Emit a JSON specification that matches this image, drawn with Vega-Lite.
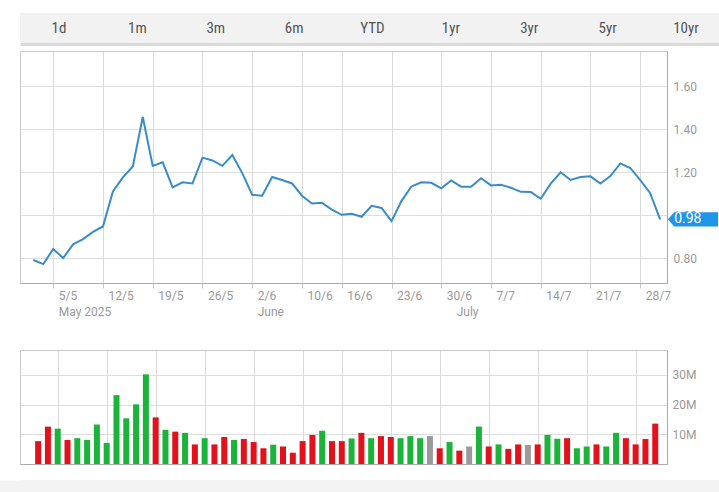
{
  "$schema": "https://vega.github.io/schema/vega-lite/v6.json",
  "padding": {"left": 0, "top": 13, "right": 0, "bottom": 0},
  "background": "white",
  "spacing": 6,
  "config": {
    "font": "Roboto",
    "view": {"stroke": "#c8c8c8"},
    "axis": {"labelFont": "Roboto", "labelColor": "#999999", "labelFontSize": 12, "gridColor": "#dedede", "domainColor": "#aaaaaa"}
  },
  "datasets": {
    "buttons": [{"k": 0, "b": "1d"}, {"k": 1, "b": "1m"}, {"k": 2, "b": "3m"}, {"k": 3, "b": "6m"}, {"k": 4, "b": "YTD"}, {"k": 5, "b": "1yr"}, {"k": 6, "b": "3yr"}, {"k": 7, "b": "5yr"}, {"k": 8, "b": "10yr"}],
    "prices": [
      {"i": 0, "date": "2025-05-01", "close": 0.791, "vol": 7.7, "dir": "down"},
      {"i": 1, "date": "2025-05-02", "close": 0.772, "vol": 12.6, "dir": "down"},
      {"i": 2, "date": "2025-05-05", "close": 0.842, "vol": 11.9, "dir": "up"},
      {"i": 3, "date": "2025-05-06", "close": 0.800, "vol": 8.1, "dir": "down"},
      {"i": 4, "date": "2025-05-07", "close": 0.864, "vol": 8.7, "dir": "up"},
      {"i": 5, "date": "2025-05-08", "close": 0.888, "vol": 8.1, "dir": "up"},
      {"i": 6, "date": "2025-05-09", "close": 0.922, "vol": 13.3, "dir": "up"},
      {"i": 7, "date": "2025-05-12", "close": 0.947, "vol": 7.1, "dir": "up"},
      {"i": 8, "date": "2025-05-13", "close": 1.110, "vol": 23.2, "dir": "up"},
      {"i": 9, "date": "2025-05-14", "close": 1.175, "vol": 15.4, "dir": "up"},
      {"i": 10, "date": "2025-05-15", "close": 1.226, "vol": 20.1, "dir": "up"},
      {"i": 11, "date": "2025-05-16", "close": 1.456, "vol": 30.2, "dir": "up"},
      {"i": 12, "date": "2025-05-19", "close": 1.228, "vol": 15.7, "dir": "down"},
      {"i": 13, "date": "2025-05-20", "close": 1.245, "vol": 11.5, "dir": "up"},
      {"i": 14, "date": "2025-05-21", "close": 1.129, "vol": 10.9, "dir": "down"},
      {"i": 15, "date": "2025-05-22", "close": 1.152, "vol": 10.5, "dir": "up"},
      {"i": 16, "date": "2025-05-23", "close": 1.147, "vol": 6.6, "dir": "down"},
      {"i": 17, "date": "2025-05-26", "close": 1.267, "vol": 8.7, "dir": "up"},
      {"i": 18, "date": "2025-05-27", "close": 1.254, "vol": 6.6, "dir": "down"},
      {"i": 19, "date": "2025-05-28", "close": 1.229, "vol": 9.1, "dir": "down"},
      {"i": 20, "date": "2025-05-29", "close": 1.279, "vol": 8.1, "dir": "up"},
      {"i": 21, "date": "2025-05-30", "close": 1.195, "vol": 8.4, "dir": "down"},
      {"i": 22, "date": "2025-06-02", "close": 1.094, "vol": 7.4, "dir": "down"},
      {"i": 23, "date": "2025-06-03", "close": 1.090, "vol": 5.3, "dir": "down"},
      {"i": 24, "date": "2025-06-04", "close": 1.177, "vol": 6.5, "dir": "up"},
      {"i": 25, "date": "2025-06-05", "close": 1.163, "vol": 5.9, "dir": "down"},
      {"i": 26, "date": "2025-06-06", "close": 1.147, "vol": 3.8, "dir": "down"},
      {"i": 27, "date": "2025-06-10", "close": 1.090, "vol": 7.7, "dir": "down"},
      {"i": 28, "date": "2025-06-11", "close": 1.054, "vol": 9.8, "dir": "down"},
      {"i": 29, "date": "2025-06-12", "close": 1.057, "vol": 11.2, "dir": "up"},
      {"i": 30, "date": "2025-06-13", "close": 1.025, "vol": 7.7, "dir": "down"},
      {"i": 31, "date": "2025-06-16", "close": 1.001, "vol": 7.7, "dir": "down"},
      {"i": 32, "date": "2025-06-17", "close": 1.006, "vol": 8.6, "dir": "up"},
      {"i": 33, "date": "2025-06-18", "close": 0.992, "vol": 10.5, "dir": "down"},
      {"i": 34, "date": "2025-06-19", "close": 1.043, "vol": 8.7, "dir": "up"},
      {"i": 35, "date": "2025-06-20", "close": 1.033, "vol": 9.4, "dir": "down"},
      {"i": 36, "date": "2025-06-23", "close": 0.972, "vol": 9.1, "dir": "down"},
      {"i": 37, "date": "2025-06-24", "close": 1.065, "vol": 8.7, "dir": "up"},
      {"i": 38, "date": "2025-06-25", "close": 1.133, "vol": 9.4, "dir": "up"},
      {"i": 39, "date": "2025-06-26", "close": 1.152, "vol": 8.7, "dir": "up"},
      {"i": 40, "date": "2025-06-27", "close": 1.150, "vol": 9.4, "dir": "flat"},
      {"i": 41, "date": "2025-06-30", "close": 1.124, "vol": 5.3, "dir": "down"},
      {"i": 42, "date": "2025-07-01", "close": 1.161, "vol": 7.4, "dir": "up"},
      {"i": 43, "date": "2025-07-02", "close": 1.132, "vol": 4.5, "dir": "down"},
      {"i": 44, "date": "2025-07-03", "close": 1.132, "vol": 5.9, "dir": "flat"},
      {"i": 45, "date": "2025-07-04", "close": 1.171, "vol": 12.6, "dir": "up"},
      {"i": 46, "date": "2025-07-07", "close": 1.138, "vol": 5.9, "dir": "down"},
      {"i": 47, "date": "2025-07-08", "close": 1.141, "vol": 6.6, "dir": "up"},
      {"i": 48, "date": "2025-07-09", "close": 1.127, "vol": 5.1, "dir": "down"},
      {"i": 49, "date": "2025-07-10", "close": 1.108, "vol": 6.6, "dir": "down"},
      {"i": 50, "date": "2025-07-11", "close": 1.107, "vol": 6.4, "dir": "flat"},
      {"i": 51, "date": "2025-07-14", "close": 1.076, "vol": 6.6, "dir": "down"},
      {"i": 52, "date": "2025-07-15", "close": 1.146, "vol": 9.8, "dir": "up"},
      {"i": 53, "date": "2025-07-16", "close": 1.199, "vol": 8.5, "dir": "up"},
      {"i": 54, "date": "2025-07-17", "close": 1.163, "vol": 8.7, "dir": "down"},
      {"i": 55, "date": "2025-07-18", "close": 1.177, "vol": 5.3, "dir": "up"},
      {"i": 56, "date": "2025-07-21", "close": 1.180, "vol": 5.9, "dir": "up"},
      {"i": 57, "date": "2025-07-22", "close": 1.147, "vol": 6.6, "dir": "down"},
      {"i": 58, "date": "2025-07-23", "close": 1.181, "vol": 5.9, "dir": "up"},
      {"i": 59, "date": "2025-07-24", "close": 1.240, "vol": 10.5, "dir": "up"},
      {"i": 60, "date": "2025-07-25", "close": 1.219, "vol": 8.7, "dir": "down"},
      {"i": 61, "date": "2025-07-28", "close": 1.163, "vol": 6.6, "dir": "down"},
      {"i": 62, "date": "2025-07-29", "close": 1.102, "vol": 8.4, "dir": "down"},
      {"i": 63, "date": "2025-07-30", "close": 0.980, "vol": 13.6, "dir": "down"}
    ]
  },
  "vconcat": [
    {
      "width": 699, "height": 30,
      "view": {"fill": "#f2f2f2", "stroke": null},
      "data": {"name": "buttons"},
      "mark": {"type": "text", "fontSize": 15, "color": "#555555", "font": "Roboto Condensed, Liberation Sans Narrow, Roboto"},
      "encoding": {
        "x": {
          "field": "k", "type": "quantitative",
          "scale": {"domain": [-0.4976, 8.4211], "nice": false, "zero": false},
          "axis": {"title": null, "labels": false, "ticks": false, "grid": false, "domain": true, "domainWidth": 3, "domainColor": "#dadada", "offset": 1}
        },
        "text": {"field": "b"}
      }
    },
    {
      "width": 647, "height": 232,
      "data": {"name": "prices"},
      "encoding": {
        "x": {
          "field": "i", "type": "quantitative",
          "scale": {"domain": [-1.34, 63.69], "nice": false, "zero": false},
          "axis": {
            "title": null,
            "values": [2, 7, 12, 17, 22, 27, 31, 36, 41, 42, 46, 51, 56, 61],
            "labelExpr": "indexof([2,22,42], datum.value) >= 0 ? [['5/5','2/6',''][indexof([2,22,42], datum.value)], ['May 2025','June','July'][indexof([2,22,42], datum.value)]] : ['5/5','12/5','19/5','26/5','2/6','10/6','16/6','23/6','30/6','','7/7','14/7','21/7','28/7'][indexof([2,7,12,17,22,27,31,36,41,42,46,51,56,61], datum.value)]",
            "labelAlign": "left", "labelOffset": 5, "labelBaseline": "top", "labelLineHeight": 16,
            "labelPadding": 2, "tickSize": 5, "tickColor": "#c8c8c8", "gridColor": "#d9d9d9",
            "grid": true, "domainColor": "#aaaaaa", "labelOverlap": false, "labelBound": false, "labelFlush": false,
            "minExtent": 59, "maxExtent": 59, "zindex": 0,
            "gridOpacity": {"condition": {"test": "datum.value == 42", "value": 0}, "value": 1},
            "tickOpacity": {"condition": {"test": "datum.value == 42", "value": 0}, "value": 1}
          }
        },
        "y": {
          "field": "close", "type": "quantitative",
          "scale": {"domain": [0.684, 1.763], "nice": false, "zero": false},
          "axis": {"title": null, "orient": "right", "values": [0.8, 1.0, 1.2, 1.4, 1.6], "format": ".2f", "ticks": false, "labelPadding": 6, "zindex": 0, "labelFlush": false}
        }
      },
      "layer": [
        {"mark": {"type": "line", "color": "#3a8cc8", "strokeWidth": 2}},
        {
          "transform": [{"filter": "datum.i == 63"}],
          "mark": {"type": "point", "shape": "M0.78,0L1.4,-0.72L5.8,-0.72L5.8,0.72L1.4,0.72Z", "size": 400, "filled": true, "color": "#2196e8", "opacity": 1, "strokeWidth": 0, "clip": false}
        },
        {
          "transform": [{"filter": "datum.i == 63"}],
          "mark": {"type": "text", "color": "white", "dx": 14, "align": "left", "baseline": "middle", "fontSize": 14, "clip": false},
          "encoding": {"text": {"field": "close", "type": "quantitative", "format": ".2f"}}
        }
      ]
    },
    {
      "width": 647, "height": 114,
      "data": {"name": "prices"},
      "mark": {"type": "bar", "size": 6},
      "encoding": {
        "x": {
          "field": "i", "type": "quantitative",
          "scale": {"domain": [-1.34, 63.69], "nice": false, "zero": false},
          "axis": {"title": null, "values": [2, 7, 12, 17, 22, 27, 31, 36, 41, 46, 51, 56, 61], "labels": false, "ticks": false, "grid": true, "gridColor": "#d9d9d9", "domainColor": "#aaaaaa", "minExtent": 9, "maxExtent": 9}
        },
        "y": {
          "field": "vol", "type": "quantitative",
          "scale": {"domain": [0, 38.4], "nice": false},
          "axis": {"title": null, "orient": "right", "values": [10, 20, 30], "labelExpr": "datum.value + 'M'", "ticks": false, "labelPadding": 5, "labelFlush": false}
        },
        "color": {
          "field": "dir", "type": "nominal",
          "scale": {"domain": ["up", "down", "flat"], "range": ["#1cb33b", "#e3111b", "#9a9a9a"]},
          "legend": null
        }
      }
    },
    {
      "width": 699, "height": 14,
      "view": {"fill": "#f3f3f3", "stroke": null},
      "data": {"values": [{"v": 0}]},
      "mark": {"type": "text", "text": ""},
      "encoding": {
        "y": {
          "field": "v", "type": "quantitative",
          "scale": {"domain": [0, 1]},
          "axis": {"title": null, "labels": false, "ticks": false, "grid": false, "domain": true, "domainWidth": 40, "domainColor": "#f3f3f3", "offset": 20}
        }
      }
    }
  ]
}
